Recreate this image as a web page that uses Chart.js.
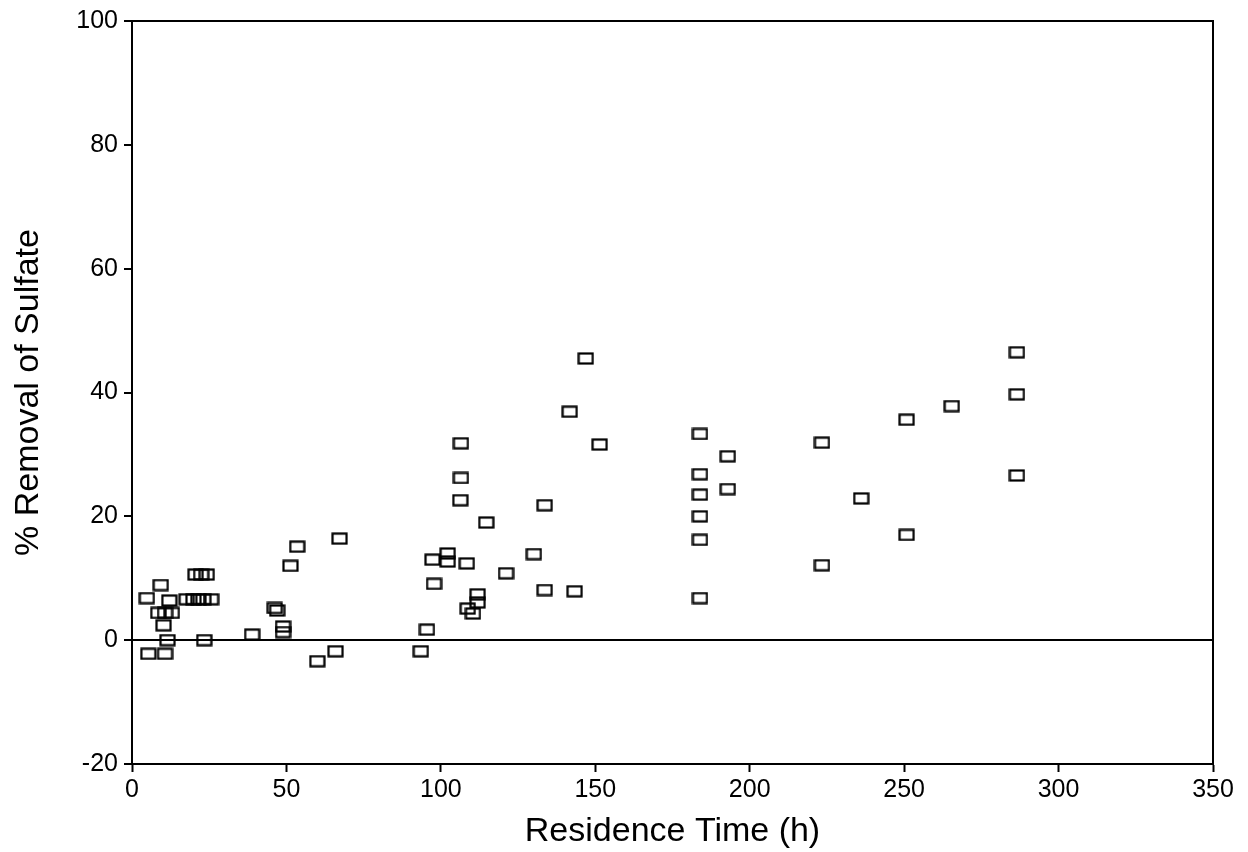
<!DOCTYPE html>
<html>
<head>
<meta charset="utf-8">
<script src="https://cdn.jsdelivr.net/npm/chart.js@4"></script>
<style>
  body { margin: 0; background: #fff; }
  canvas { display: block; }
</style>
</head>
<body>
<canvas id="chart" width="1248" height="852"></canvas>
<script>
'use strict'
// residence time (h)
const residenceTime = [
  4.8, 9.3, 12.1, 8.5, 10.7, 12.9, 10.2, 11.5, 5.3, 10.7,
  20.6, 22.4, 24.2, 17.7, 19.9, 21.5, 23.1, 25.6, 23.4, 38.9,
  46.2, 47.0, 48.9, 48.9, 51.3, 53.5, 67.2, 60.0, 65.9,
  93.5, 95.5, 97.8, 97.3, 102.2, 102.2, 108.4, 106.5, 106.5, 106.3,
  114.7, 111.9, 111.9, 108.7, 110.4, 121.1, 130.1, 133.6, 133.6, 143.3,
  141.7, 146.9, 151.4,
  183.9, 183.9, 183.9, 183.9, 183.9, 183.9, 192.9, 192.9,
  223.4, 223.4, 236.1, 250.8, 250.8, 265.4, 286.5, 286.5, 286.5
];
// % removal of sulfate
const sulfateRemoval = [
  6.8, 8.9, 6.4, 4.4, 4.4, 4.4, 2.4, 0.0, -2.2, -2.2,
  10.6, 10.6, 10.6, 6.6, 6.6, 6.6, 6.6, 6.6, 0.0, 0.9,
  5.2, 4.8, 2.2, 1.3, 12.0, 15.1, 16.4, -3.4, -1.8,
  -1.8, 1.7, 9.1, 13.0, 14.0, 12.7, 12.4, 31.8, 26.2, 22.6,
  19.0, 7.4, 6.1, 5.1, 4.3, 10.8, 13.9, 21.8, 8.1, 7.9,
  36.9, 45.5, 31.6,
  33.3, 26.8, 23.5, 20.0, 16.2, 6.8, 29.7, 24.4,
  31.9, 12.1, 22.9, 35.6, 17.0, 37.8, 46.5, 39.7, 26.6
];
// axis ticks
const xTicks = [0, 50, 100, 150, 200, 250, 300, 350];
const yTicks = [-20, 0, 20, 40, 60, 80, 100];

const points = residenceTime.map((t, i) => ({ x: t, y: sulfateRemoval[i] }));

// hollow rectangle marker
function makeMarker(){
  const c = document.createElement('canvas');
  c.width = 17;
  c.height = 13;
  const g = c.getContext('2d');
  g.strokeStyle = '#000';
  g.lineWidth = 2.2;
  g.strokeRect(1.5, 1.5, 14, 10);
  return c;
}

// frame around the plot area (top / right sides)
const framePlugin = {
  id: 'frame',
  beforeDatasetsDraw(chart){
    const a = chart.chartArea;
    const ctx = chart.ctx;
    ctx.save();
    ctx.strokeStyle = '#000';
    ctx.lineWidth = 2;
    ctx.strokeRect(a.left, a.top, a.right - a.left, a.bottom - a.top);
    ctx.restore();
  }
};

Chart.defaults.font.family = "'Liberation Sans', Arial, sans-serif";
Chart.defaults.color = '#000';

new Chart(document.getElementById('chart'), {
  type: 'scatter',
  data: {
    datasets: [{
      data: points,
      pointStyle: makeMarker(),
      pointRadius: 6
    }]
  },
  options: {
    responsive: false,
    animation: false,
    layout: { padding: { top: 17, right: 35, left: 0, bottom: 0 } },
    plugins: {
      legend: { display: false },
      tooltip: { enabled: false }
    },
    scales: {
      x: {
        type: 'linear',
        min: xTicks[0],
        max: xTicks[xTicks.length - 1],
        afterBuildTicks: s => { s.ticks = xTicks.map(v => ({ value: v })); },
        afterFit: s => { s.height = 88; },
        ticks: { font: { size: 25 }, padding: 3, maxRotation: 0 },
        grid: { drawOnChartArea: false, tickLength: 8, tickColor: '#000', tickWidth: 2 },
        border: { color: '#000', width: 2 },
        title: {
          display: true,
          text: 'Residence Time (h)',
          font: { size: 34 },
          padding: { top: 0, bottom: 0 }
        }
      },
      y: {
        type: 'linear',
        min: yTicks[0],
        max: yTicks[yTicks.length - 1],
        afterBuildTicks: s => { s.ticks = yTicks.map(v => ({ value: v })); },
        afterFit: s => { s.width = 132; },
        ticks: { font: { size: 25 }, padding: 6 },
        grid: {
          color: c => (c.tick && c.tick.value === 0) ? '#000' : 'rgba(0,0,0,0)',
          lineWidth: 2,
          tickLength: 8,
          tickColor: '#000',
          tickWidth: 2
        },
        border: { color: '#000', width: 2 },
        title: {
          display: true,
          text: '% Removal of Sulfate',
          font: { size: 34 },
          padding: { top: 8, bottom: 0 }
        }
      }
    }
  },
  plugins: [framePlugin]
});
</script>
</body>
</html>
